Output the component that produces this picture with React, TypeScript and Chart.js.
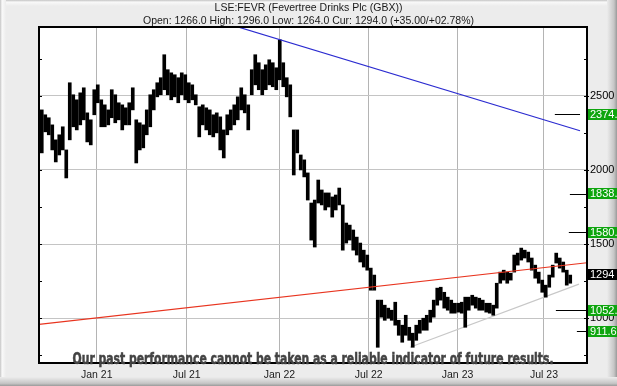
import React, { useEffect, useRef } from "react";
import { Chart, registerables } from "chart.js";

Chart.register(...registerables);

const W = 617;
const H = 386;

const titleText = "LSE:FEVR (Fevertree Drinks Plc (GBX))";
const subtitleText = "Open: 1266.0 High: 1296.0 Low: 1264.0 Cur: 1294.0 (+35.00/+02.78%)";
const disclaimerText = "Our past performance cannot be taken as a reliable indicator of future results.";

// weekly price ranges (GBX), one entry per week from Sep 2020 to Aug 2023
const weekLow = [
  2115, 2257, 2237, 2135, 2054, 2101, 2135, 1946, 2203, 2291,
  2270, 2304, 2338, 2189, 2169, 2372, 2453, 2291, 2291, 2304,
  2352, 2318, 2338, 2270, 2304, 2304, 2405, 2047, 2135, 2149,
  2237, 2291, 2405, 2493, 2507, 2541, 2507, 2473, 2493, 2453,
  2507, 2473, 2453, 2473, 2439, 2223, 2304, 2270, 2237, 2223,
  2250, 2135, 2081, 2237, 2270, 2304, 2338, 2405, 2385, 2270,
  2507, 2574, 2541, 2507, 2541, 2574, 2561, 2541, 2608, 2561,
  2493, 2358, 1966, 2115, 2000, 1953, 1797, 1527, 1480, 1777,
  1764, 1730, 1750, 1682, 1730, 1764, 1459, 1507, 1527, 1459,
  1426, 1379, 1345, 1324, 1189, 1189, 804, 1007, 986, 1000,
  986, 953, 885, 838, 885, 851, 804, 851, 899, 919,
  919, 973, 1007, 1088, 1122, 1068, 1054, 1034, 1034, 1041,
  1034, 939, 1054, 1088, 1068, 1054, 1054, 1041, 1034, 1020,
  1068, 1236, 1257, 1236, 1257, 1311, 1358, 1392, 1406, 1379,
  1324, 1270, 1236, 1175, 1142, 1209, 1277, 1372, 1338, 1311,
  1223, 1236,
];
const weekHigh = [
  2405, 2372, 2352, 2304, 2203, 2237, 2291, 2135, 2588, 2507,
  2473, 2520, 2554, 2385, 2338, 2541, 2574, 2473, 2439, 2405,
  2541, 2507, 2453, 2439, 2419, 2453, 2554, 2338, 2318, 2304,
  2405, 2507, 2541, 2588, 2622, 2777, 2676, 2655, 2642, 2622,
  2655, 2642, 2588, 2574, 2507, 2426, 2439, 2419, 2405, 2372,
  2385, 2358, 2270, 2372, 2405, 2439, 2493, 2554, 2507, 2439,
  2676, 2777, 2723, 2676, 2709, 2743, 2723, 2689, 2878, 2723,
  2622, 2574, 2270, 2270, 2101, 2068, 1980, 1777, 1797, 1932,
  1865, 1845, 1845, 1818, 1831, 1878, 1764, 1642, 1628, 1595,
  1547, 1507, 1459, 1426, 1338, 1291, 1122, 1122, 1088, 1068,
  1054, 1108, 986, 953, 1020, 939, 899, 953, 986, 1000,
  1020, 1054, 1122, 1203, 1209, 1175, 1142, 1122, 1101, 1101,
  1108, 1142, 1142, 1155, 1142, 1135, 1122, 1101, 1101, 1088,
  1236, 1311, 1324, 1311, 1304, 1426, 1439, 1473, 1459, 1446,
  1406, 1358, 1311, 1257, 1223, 1291, 1358, 1439, 1406, 1379,
  1324, 1291,
];

// x axis (week index) range and month ticks
const xMin = -0.79;
const xMax = 155.79;
const xTickPos = [15.7, 41.4, 67.9, 93.4, 118.8, 143.5];
const xTickLabels = ["Jan 21", "Jul 21", "Jan 22", "Jul 22", "Jan 23", "Jul 23"];

// y axis
const yMin = 698;
const yMax = 2964;
const yTicks = [750, 1000, 1250, 1500, 1750, 2000, 2250, 2500, 2750];
const yLabelled = [1000, 1500, 2000, 2500];

// trend lines (week index, price)
const blueX = [55.8, 153.8];
const blueY = [2966, 2264];
const redX = [-0.79, 155.79];
const redY = [959, 1374];
const greyX = [105.2, 153.5];
const greyY = [804, 1230];

// target levels
const targetValues = [2374.4, 1838.5, 1580.2, 1052.3, 911.6];
const targetLabels = ["2374.", "1838.", "1580.", "1052.", "911.6"];
const targetFrom = [146.6, 150.9, 150.6, 146.9, 152.9];
const targetTo = [153.8, 155.79, 155.79, 155.79, 155.79];

const currentValue = 1294;
const currentLabel = "1294";

const FONT = '"Liberation Sans", Arial, sans-serif';

const framePlugin = {
  id: "frame",
  beforeDraw(chart: any) {
    const { ctx, chartArea: a } = chart;
    ctx.save();
    ctx.fillStyle = "#ececec";
    ctx.fillRect(0, 0, W, H);
    let g = ctx.createLinearGradient(0, 0, 6, 0);
    g.addColorStop(0, "#c4c4c4");
    g.addColorStop(0.35, "#f9f9f9");
    g.addColorStop(1, "#ececec");
    ctx.fillStyle = g;
    ctx.fillRect(0, 0, 6, H);
    g = ctx.createLinearGradient(0, 0, 0, 6);
    g.addColorStop(0, "#c4c4c4");
    g.addColorStop(0.35, "#f9f9f9");
    g.addColorStop(1, "#ececec");
    ctx.fillStyle = g;
    ctx.fillRect(6, 0, W - 6, 6);
    g = ctx.createLinearGradient(W - 10, 0, W, 0);
    g.addColorStop(0, "#ececec");
    g.addColorStop(0.7, "#c6c6c6");
    g.addColorStop(1, "#9a9a9a");
    ctx.fillStyle = g;
    ctx.fillRect(W - 10, 0, 10, H);
    g = ctx.createLinearGradient(0, H - 9, 0, H);
    g.addColorStop(0, "#ececec");
    g.addColorStop(0.7, "#c6c6c6");
    g.addColorStop(1, "#9a9a9a");
    ctx.fillStyle = g;
    ctx.fillRect(0, H - 9, W, 9);
    ctx.fillStyle = "#ffffff";
    ctx.fillRect(a.left, a.top, a.right - a.left, a.bottom - a.top);
    ctx.restore();
  },
  afterDatasetsDraw(chart: any) {
    const { ctx, chartArea: a, scales } = chart;
    const ys = scales.y;
    const xs = scales.x;
    ctx.save();
    ctx.strokeStyle = "#000";
    ctx.lineWidth = 1;
    targetValues.forEach((v, i) => {
      const y = Math.round(ys.getPixelForValue(v)) + 0.5;
      ctx.beginPath();
      ctx.moveTo(xs.getPixelForValue(targetFrom[i]), y);
      ctx.lineTo(xs.getPixelForValue(targetTo[i]), y);
      ctx.stroke();
    });
    yTicks.forEach((v) => {
      const y = Math.round(ys.getPixelForValue(v)) + 0.5;
      ctx.beginPath();
      ctx.moveTo(a.left, y);
      ctx.lineTo(a.left + 3, y);
      ctx.moveTo(a.right - 3, y);
      ctx.lineTo(a.right + (yLabelled.includes(v) ? 2 : 0), y);
      ctx.stroke();
    });
    ctx.lineWidth = 2;
    ctx.strokeRect(a.left, a.top, a.right - a.left, a.bottom - a.top);
    ctx.restore();
  },
  afterDraw(chart: any) {
    const { ctx, chartArea: a, scales } = chart;
    const ys = scales.y;
    ctx.save();
    ctx.font = "11px " + FONT;
    ctx.textBaseline = "middle";
    ctx.textAlign = "left";
    targetValues.forEach((v, i) => {
      const y = ys.getPixelForValue(v);
      ctx.fillStyle = "#0ea50e";
      ctx.fillRect(a.right + 1, Math.round(y - 5.5), W - a.right - 1, 11);
      ctx.fillStyle = "#ffffff";
      ctx.fillText(targetLabels[i], a.right + 3, y + 0.5);
    });
    const cy = ys.getPixelForValue(currentValue);
    ctx.fillStyle = "#000";
    ctx.fillRect(a.right + 1, Math.round(cy - 5.5), W - a.right - 1, 11);
    ctx.fillStyle = "#fff";
    ctx.fillText(currentLabel, a.right + 3, cy + 0.5);

    ctx.fillStyle = "#1a1a1a";
    ctx.textAlign = "center";
    ctx.font = "10.5px " + FONT;
    ctx.fillText(titleText, W / 2, 8);
    ctx.fillText(subtitleText, W / 2, 21);

    ctx.font = 'bold 15px "Liberation Sans Narrow", "DejaVu Sans Condensed", ' + FONT;
    ctx.textBaseline = "alphabetic";
    const w = ctx.measureText(disclaimerText).width;
    ctx.translate(313, 363.5);
    ctx.scale(481 / w, 1);
    ctx.fillStyle = "#444444";
    ctx.strokeStyle = "#444444";
    ctx.lineWidth = 0.5;
    ctx.fillText(disclaimerText, 0, 0);
    ctx.strokeText(disclaimerText, 0, 0);
    ctx.restore();
  },
};

export default function App() {
  const ref = useRef<HTMLCanvasElement | null>(null);
  useEffect(() => {
    if (!ref.current) return;
    const mk = (xs: number[], ys: number[]) => xs.map((x, i) => ({ x, y: ys[i] }));
    const chart = new Chart(ref.current, {
      type: "bar",
      data: {
        datasets: [
          {
            type: "line",
            data: mk(blueX, blueY),
            borderColor: "#2b2bd0",
            borderWidth: 1.2,
            pointRadius: 0,
            order: 0,
          } as any,
          {
            type: "line",
            data: mk(redX, redY),
            borderColor: "#e8341f",
            borderWidth: 1.2,
            pointRadius: 0,
            order: 0,
          } as any,
          {
            type: "line",
            data: mk(greyX, greyY),
            borderColor: "#c8c8c8",
            borderWidth: 1.2,
            pointRadius: 0,
            order: 3,
          } as any,
          {
            type: "bar",
            data: weekLow.map((lo, i) => ({ x: i, y: [lo, weekHigh[i]] })),
            backgroundColor: "#000",
            borderWidth: 0,
            barThickness: 3,
            grouped: false,
            order: 2,
          } as any,
        ],
      },
      options: {
        animation: false,
        responsive: false,
        maintainAspectRatio: false,
        devicePixelRatio: 1,
        layout: { padding: { left: 39, top: 27, right: 0, bottom: 0 } },
        plugins: {
          legend: { display: false },
          tooltip: { enabled: false },
          title: { display: false },
        },
        scales: {
          x: {
            type: "linear",
            min: xMin,
            max: xMax,
            offset: false,
            afterBuildTicks: (s: any) => {
              s.ticks = xTickPos.map((v) => ({ value: v }));
            },
            afterFit: (s: any) => {
              s.height = 23;
            },
            ticks: {
              autoSkip: false,
              maxRotation: 0,
              padding: 6,
              color: "#1a1a1a",
              font: { family: FONT, size: 10.5 },
              callback: (v: any) => {
                const k = xTickPos.indexOf(Number(v));
                return k >= 0 ? xTickLabels[k] : "";
              },
            },
            grid: { color: "#b4b4b4", drawTicks: false, offset: false, lineWidth: 1 },
            border: { display: false },
          },
          y: {
            type: "linear",
            position: "right",
            min: yMin,
            max: yMax,
            afterBuildTicks: (s: any) => {
              s.ticks = yTicks.map((v) => ({ value: v }));
            },
            afterFit: (s: any) => {
              s.width = 30;
            },
            ticks: {
              padding: 3,
              color: "#000",
              font: { family: FONT, size: 11 },
              callback: (v: any) => (yLabelled.includes(Number(v)) ? String(v) : ""),
            },
            grid: {
              drawTicks: false,
              lineWidth: 1,
              color: (c: any) => (c.tick && yLabelled.includes(c.tick.value) ? "#c4c4c4" : "rgba(0,0,0,0)"),
            },
            border: { display: false },
          },
        },
      } as any,
      plugins: [framePlugin],
    });
    return () => chart.destroy();
  }, []);
  return (
    <div style={{ position: "fixed", left: 0, top: 0, width: W, height: H }}>
      <canvas ref={ref} width={W} height={H} style={{ display: "block", width: W, height: H }} />
    </div>
  );
}
